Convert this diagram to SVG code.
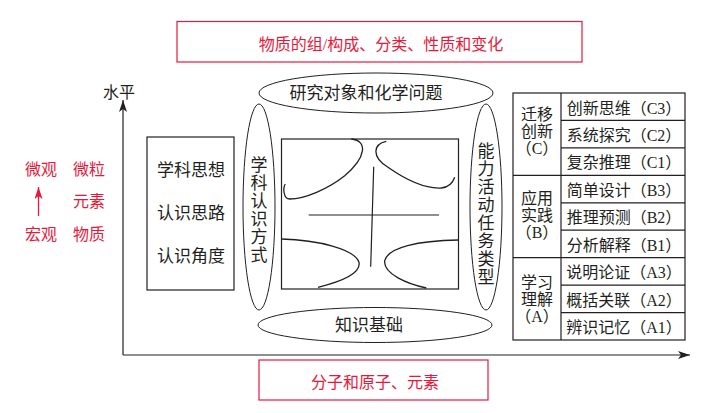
<svg xmlns="http://www.w3.org/2000/svg" width="708" height="413" viewBox="0 0 708 413">
<style>
text{font-family:"Liberation Serif","Noto Sans CJK SC",serif;font-size:16px;fill:#231f20}
.red{fill:#e6193c}
.mid{text-anchor:middle}
.rbox{fill:none;stroke:#e6193c;stroke-width:1.2}
.ln{fill:none;stroke:#231f20;stroke-width:1.2}
.thin{fill:none;stroke:#231f20;stroke-width:1}
.cv{fill:none;stroke:#231f20;stroke-width:1.3}
</style>
<defs>
<marker id="ah" viewBox="0 0 12 8" refX="12" refY="4" markerWidth="12" markerHeight="8" markerUnits="userSpaceOnUse" orient="auto">
<path d="M0,0 L12,4 L0,8 L3,4 Z" fill="#231f20"/>
</marker>
<marker id="ahr" viewBox="0 0 12 8" refX="12" refY="4" markerWidth="12" markerHeight="8" markerUnits="userSpaceOnUse" orient="auto">
<path d="M0,0 L12,4 L0,8 L3,4 Z" fill="#e6193c"/>
</marker>
</defs>
<rect width="708" height="413" fill="#fff"/>

<g id="connectors">
<line class="ln" x1="123" y1="355" x2="123" y2="100" marker-end="url(#ah)"/>
<line class="ln" x1="123" y1="355" x2="690" y2="355" marker-end="url(#ah)"/>
<line x1="38.5" y1="216" x2="38.5" y2="187" stroke="#e6193c" stroke-width="1.3" marker-end="url(#ahr)"/>
</g>

<g id="top-title">
<rect class="rbox" x="177" y="21.5" width="405" height="40.5"/>
<text class="red mid" x="381" y="49.5">物质的组/构成、分类、性质和变化</text>
</g>

<g id="bottom-title">
<rect class="rbox" x="259" y="360" width="229" height="40"/>
<text class="red mid" x="375" y="388">分子和原子、元素</text>
</g>

<g id="axis-label">
<text class="mid" x="119" y="97.5">水平</text>
</g>

<g id="scale-labels">
<text x="25" y="175" class="red">微观</text>
<text x="73" y="175" class="red">微粒</text>
<text x="73" y="207" class="red">元素</text>
<text x="25" y="240" class="red">宏观</text>
<text x="73" y="240" class="red">物质</text>
</g>

<g id="thinking-box">
<rect class="ln" x="147" y="137" width="87" height="153"/>
<text class="mid" x="191" y="176" style="font-size:17px">学科思想</text>
<text class="mid" x="191" y="219" style="font-size:17px">认识思路</text>
<text class="mid" x="191" y="262" style="font-size:17px">认识角度</text>
</g>

<g id="research-object">
<ellipse class="thin" cx="376" cy="93" rx="117" ry="20"/>
<text class="mid" x="366" y="99" style="font-size:17px">研究对象和化学问题</text>
</g>

<g id="knowledge-base">
<ellipse class="thin" cx="375" cy="325" rx="117" ry="17.5"/>
<text class="mid" x="369" y="331" style="font-size:17px">知识基础</text>
</g>

<g id="cognition-mode">
<ellipse class="thin" cx="259" cy="207" rx="16" ry="103"/>
<text class="mid" style="font-size:17px"><tspan x="259" y="171">学</tspan><tspan x="259" y="189">科</tspan><tspan x="259" y="207">认</tspan><tspan x="259" y="225">识</tspan><tspan x="259" y="243">方</tspan><tspan x="259" y="261">式</tspan></text>
</g>

<g id="task-type">
<ellipse class="thin" cx="486" cy="207" rx="16" ry="103"/>
<text class="mid" style="font-size:17px"><tspan x="486" y="157">能</tspan><tspan x="486" y="175">力</tspan><tspan x="486" y="193">活</tspan><tspan x="486" y="211">动</tspan><tspan x="486" y="229">任</tspan><tspan x="486" y="247">务</tspan><tspan x="486" y="265">类</tspan><tspan x="486" y="283">型</tspan></text>
</g>

<g id="core-square">
<rect class="ln" x="281.5" y="139" width="177" height="150"/>
<path class="cv" d="M351.3,139 C368,140.7 366.3,157.3 344.7,175.7 C328,189 304.7,199 289.7,199 C283,199 283,187.3 285.3,184"/>
<path class="cv" d="M386.3,141.3 C373,144 371.3,157.3 388,167.3 C404.7,179 424.7,189 441.3,188 C449.7,187.3 453,182.3 454.7,177.3"/>
<path class="cv" d="M281.5,239 C318,240 354.7,249 359,262.3 C361.3,274 338,282.3 318,287.3"/>
<path class="cv" d="M458.5,240 C418,240.7 388,247.3 384.7,260.7 C383,274 408,284 426.3,288"/>
<line class="ln" x1="308.7" y1="215" x2="439" y2="215"/>
<line class="ln" x1="373.7" y1="166.7" x2="370.7" y2="266.7"/>
</g>

<g id="ability-table">
<rect class="ln" x="513" y="93" width="172" height="247"/>
<line class="ln" x1="561" y1="93" x2="561" y2="340"/>
<line class="ln" x1="561" y1="120.4" x2="685" y2="120.4"/>
<line class="ln" x1="561" y1="147.9" x2="685" y2="147.9"/>
<line class="ln" x1="513" y1="175.3" x2="685" y2="175.3"/>
<line class="ln" x1="561" y1="202.8" x2="685" y2="202.8"/>
<line class="ln" x1="561" y1="230.2" x2="685" y2="230.2"/>
<line class="ln" x1="513" y1="257.7" x2="685" y2="257.7"/>
<line class="ln" x1="561" y1="285.1" x2="685" y2="285.1"/>
<line class="ln" x1="561" y1="312.6" x2="685" y2="312.6"/>
<g id="group-c">
<text class="mid" x="537" y="119.5">迁移</text>
<text class="mid" x="537" y="136.5">创新</text>
<text class="mid" x="537" y="153.5">（C）</text>
<text class="mid" x="624" y="113.5">创新思维（C3）</text>
<text class="mid" x="624" y="141">系统探究（C2）</text>
<text class="mid" x="624" y="168.4">复杂推理（C1）</text>
</g>
<g id="group-b">
<text class="mid" x="537" y="203.5">应用</text>
<text class="mid" x="537" y="220.5">实践</text>
<text class="mid" x="537" y="237.5">（B）</text>
<text class="mid" x="624" y="195.8">简单设计（B3）</text>
<text class="mid" x="624" y="223.3">推理预测（B2）</text>
<text class="mid" x="624" y="250.7">分析解释（B1）</text>
</g>
<g id="group-a">
<text class="mid" x="537" y="287.5">学习</text>
<text class="mid" x="537" y="304.5">理解</text>
<text class="mid" x="537" y="321.5">（A）</text>
<text class="mid" x="624" y="278.2">说明论证（A3）</text>
<text class="mid" x="624" y="305.6">概括关联（A2）</text>
<text class="mid" x="624" y="333.1">辨识记忆（A1）</text>
</g>
</g>
</svg>
